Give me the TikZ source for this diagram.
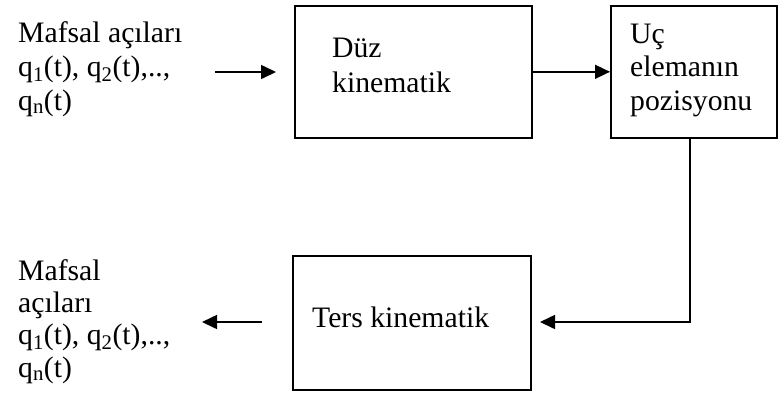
\documentclass[tikz,border=0pt]{standalone}
\usepackage{fontspec}
\setmainfont{Liberation Serif}
\usetikzlibrary{arrows.meta}
\tikzset{
  blockbox/.style={draw, line width=1.6pt, inner sep=0pt, anchor=north west},
  label/.style={inner sep=0pt, anchor=base west, align=left,
    font=\fontsize{29.7}{34}\selectfont},
  flow/.style={line width=1.6pt, -{Triangle[length=15pt,width=14pt]}},
}
\begin{document}
\begin{tikzpicture}[x=1pt,y=-1pt]
  \useasboundingbox (0,0) rectangle (778,392);

  % blocks
  \node[blockbox, minimum width=237pt, minimum height=132pt] (duz) at (294,5) {};
  \node[blockbox, minimum width=166pt, minimum height=132pt] (uc) at (610,5) {};
  \node[blockbox, minimum width=238pt, minimum height=134pt] (ters) at (292,255) {};

  % block texts (anchored on the baseline of their last line)
  \node[label, font=\fontsize{29.7}{35}\selectfont] (duztxt) at (332,92) {Düz\\kinematik};
  \node[label, font=\fontsize{29.7}{33.5}\selectfont] (uctxt) at (630,110) {Uç\\elemanın\\pozisyonu};
  \node[label] (terstxt) at (312,327) {Ters kinematik};

  % inputs and outputs
  \node[label] (inp) at (18,110) {Mafsal açıları\\q\textsubscript{1}(t), q\textsubscript{2}(t),..,\\q\textsubscript{n}(t)};
  \node[label, font=\fontsize{29.7}{32.3}\selectfont] (outp) at (18,377) {Mafsal\\açıları\\q\textsubscript{1}(t), q\textsubscript{2}(t),..,\\q\textsubscript{n}(t)};

  % connector ends
  \coordinate (inA) at (215,72);
  \coordinate (inB) at (276,72);
  \coordinate (turn) at (690,322);
  \coordinate (tersin) at (540,322);
  \coordinate (outA) at (262,322);
  \coordinate (outB) at (202,322);

  % connectors
  \draw[flow] (inA) -- (inB);
  \draw[flow] (duz.east) -- (uc.west);
  \draw[flow] (uc.south -| turn) -- (turn) -- (tersin);
  \draw[flow] (outA) -- (outB);
\end{tikzpicture}
\end{document}
